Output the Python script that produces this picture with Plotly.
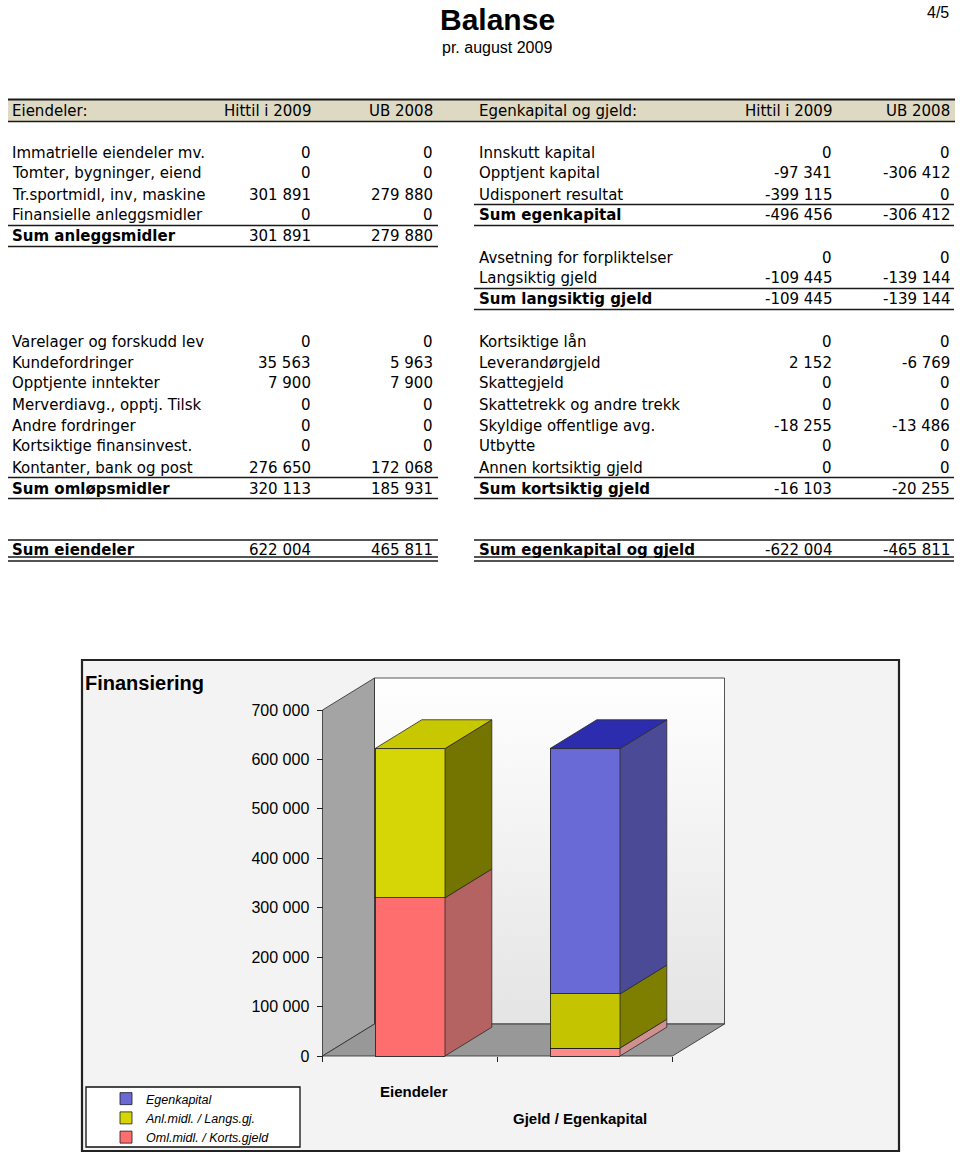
import plotly.graph_objects as go

# ------------------------------------------------------------------ data
header_left = ["Eiendeler:", "Hittil i 2009", "UB 2008"]
header_right = ["Egenkapital og gjeld:", "Hittil i 2009", "UB 2008"]

fixed_labels = ["Immatrielle eiendeler mv.", "Tomter, bygninger, eiend",
                "Tr.sportmidl, inv, maskine", "Finansielle anleggsmidler"]
fixed_2009 = [0, 0, 301891, 0]
fixed_2008 = [0, 0, 279880, 0]

current_labels = ["Varelager og forskudd lev", "Kundefordringer", "Opptjente inntekter",
                  "Merverdiavg., opptj. Tilsk", "Andre fordringer",
                  "Kortsiktige finansinvest.", "Kontanter, bank og post"]
current_2009 = [0, 35563, 7900, 0, 0, 0, 276650]
current_2008 = [0, 5963, 7900, 0, 0, 0, 172068]

equity_labels = ["Innskutt kapital", "Opptjent kapital", "Udisponert resultat"]
equity_2009 = [0, -97341, -399115]
equity_2008 = [0, -306412, 0]

longdebt_labels = ["Avsetning for forpliktelser", "Langsiktig gjeld"]
longdebt_2009 = [0, -109445]
longdebt_2008 = [0, -139144]

shortdebt_labels = ["Kortsiktige lån", "Leverandørgjeld", "Skattegjeld",
                    "Skattetrekk og andre trekk", "Skyldige offentlige avg.",
                    "Utbytte", "Annen kortsiktig gjeld"]
shortdebt_2009 = [0, 2152, 0, 0, -18255, 0, 0]
shortdebt_2008 = [0, -6769, 0, 0, -13486, 0, 0]

sum_labels = {"fixed": "Sum anleggsmidler", "current": "Sum omløpsmidler",
              "equity": "Sum egenkapital", "long": "Sum langsiktig gjeld",
              "short": "Sum kortsiktig gjeld", "assets": "Sum eiendeler",
              "liab": "Sum egenkapital og gjeld"}

chart_categories = ["Eiendeler", "Gjeld / Egenkapital"]
series_names = ["Oml.midl. / Korts.gjeld", "Anl.midl. / Langs.gj.", "Egenkapital"]
oml_values = [sum(current_2009), -sum(shortdebt_2009)]
anl_values = [sum(fixed_2009), -sum(longdebt_2009)]
ek_values = [0, -sum(equity_2009)]
series_values = [oml_values, anl_values, ek_values]

y_tick_values = [0, 100000, 200000, 300000, 400000, 500000, 600000, 700000]
y_tick_labels = ["0", "100 000", "200 000", "300 000", "400 000", "500 000",
                 "600 000", "700 000"]

# ------------------------------------------------------------------ styles
W, H = 960, 1154
TABLE_FONT = "DejaVu Sans"
CHART_FONT = "Liberation Sans, Arial"

series_front = [["#ff6e6e", "#ff8a8a"], ["#d6d606", "#c4c400"], ["#6a6ad6", "#6a6ad6"]]
series_side = [["#b46262", "#d09090"], ["#747400", "#7e7e00"], ["#4a4a96", "#4a4a96"]]
series_top = [["#e04040", "#ff9090"], ["#c8c800", "#c0c000"], ["#2c2cae", "#2c2cae"]]


def fmt(v):
    return f"{v:,}".replace(",", " ")


def xp(px):
    return px / W


def yp(py):
    return 1 - py / H


# chart geometry (pixels -> data)
ZERO_PY, TOP_PY = 1056, 710
K = (ZERO_PY - TOP_PY) / max(y_tick_values)
X0_PX, XS = 410, 175
BAR_W = 0.4
DX = 52 / XS
DV = 32 / K
BDX, BDV = DX * 0.9, DV * 0.9


def vx(px):
    return (px - X0_PX) / XS


def vy(py):
    return (ZERO_PY - py) / K


CH_L, CH_R, CH_T, CH_B = 82, 899, 660, 1151

fig = go.Figure()


def poly(pts, color, z, lw=0.8, lc="#2a2a2a", grad=None):
    xs = [p[0] for p in pts] + [pts[0][0]]
    ys = [p[1] for p in pts] + [pts[0][1]]
    kw = {}
    if grad:
        kw["fillgradient"] = dict(type="vertical", colorscale=grad)
    fig.add_trace(go.Scatter(x=xs, y=ys, mode="lines", fill="toself", fillcolor=color,
                             line=dict(color=lc, width=lw), hoverinfo="skip",
                             showlegend=False, zorder=z, **kw))


# walls
n = len(chart_categories)
xl, xr = -0.5, n - 0.5
ymax = max(y_tick_values)
poly([(xl + DX, DV), (xr + DX, DV), (xr + DX, ymax + DV), (xl + DX, ymax + DV)],
     "#f6f6f6", -2, grad=[[0, "#e4e4e4"], [1, "#ffffff"]])
poly([(xl, 0), (xl + DX, DV), (xl + DX, ymax + DV), (xl, ymax)], "#a4a4a4", -2)
poly([(xl, 0), (xr, 0), (xr + DX, DV), (xl + DX, DV)], "#989898", -2)

# front faces (bars)
for s, name in enumerate(series_names):
    fig.add_trace(go.Bar(x=list(range(n)), y=series_values[s], name=name, width=BAR_W,
                         marker=dict(color=series_front[s],
                                     line=dict(color="#1a1a1a", width=0.8)),
                         zorder=0, hoverinfo="skip"))

# side and top faces from the same values
for i in range(n):
    cum = 0
    top_s = None
    for s in range(len(series_names)):
        v = series_values[s][i]
        if v <= 0:
            continue
        b, t = cum, cum + v
        xrt = i + BAR_W / 2
        poly([(xrt, b), (xrt + BDX, b + BDV), (xrt + BDX, t + BDV), (xrt, t)],
             series_side[s][i], 1)
        cum = t
        top_s = s
    if top_s is not None:
        xlt, xrt = i - BAR_W / 2, i + BAR_W / 2
        poly([(xlt, cum), (xrt, cum), (xrt + BDX, cum + BDV), (xlt + BDX, cum + BDV)],
             series_top[top_s][i], 1)

# ------------------------------------------------------------------ table
ann = []
shapes = []


def txt(x, y, s, anchor="left", bold=False, size=15, family=TABLE_FONT, italic=False,
        xref="paper"):
    if bold:
        s = "<b>" + s + "</b>"
    ann.append(dict(x=x if xref != "paper" else xp(x), y=yp(y), xref=xref, yref="paper",
                    text=s, showarrow=False, xanchor=anchor, yanchor="middle",
                    font=dict(family=family, size=size, color="black",
                              style="italic" if italic else "normal")))


def hline(y, x0, x1, w=1.5, color="#1a1a1a"):
    shapes.append(dict(type="line", xref="paper", yref="paper", x0=xp(x0), x1=xp(x1),
                       y0=yp(y), y1=yp(y), line=dict(color=color, width=w)))


L_LAB, L_C1, L_C2 = 10, 313, 435
R_LAB, R_C1, R_C2 = 477, 834, 952
LX0, LX1, RX0, RX1 = 8, 438, 474, 954


def row_y(r):
    return 152.5 + 21 * r


# header band
shapes.append(dict(type="rect", xref="paper", yref="paper", x0=xp(8), x1=xp(955),
                   y0=yp(121), y1=yp(100), fillcolor="#ddd9c3", line=dict(width=0),
                   layer="below"))
hline(99.5, 8, 955, 2.2)
hline(121.5, 8, 955, 1.6)
for col, x, a in zip(header_left, [L_LAB, L_C1, L_C2], ["left", "right", "right"]):
    txt(x, 111, col, a)
for col, x, a in zip(header_right, [R_LAB, R_C1, R_C2], ["left", "right", "right"]):
    txt(x, 111, col, a)


def block(labels, v1, v2, r0, side, sum_label):
    lab, c1, c2 = (L_LAB, L_C1, L_C2) if side == "L" else (R_LAB, R_C1, R_C2)
    x0, x1 = (LX0, LX1) if side == "L" else (RX0, RX1)
    for k, lbl in enumerate(labels):
        y = row_y(r0 + k)
        txt(lab, y, lbl)
        txt(c1, y, fmt(v1[k]), "right")
        txt(c2, y, fmt(v2[k]), "right")
    rs = r0 + len(labels)
    y = row_y(rs)
    txt(lab, y, sum_label, bold=True)
    txt(c1, y, fmt(sum(v1)), "right")
    txt(c2, y, fmt(sum(v2)), "right")
    hline(y - 11, x0, x1)
    hline(y + 10, x0, x1)


block(fixed_labels, fixed_2009, fixed_2008, 0, "L", sum_labels["fixed"])
block(current_labels, current_2009, current_2008, 9, "L", sum_labels["current"])
block(equity_labels, equity_2009, equity_2008, 0, "R", sum_labels["equity"])
block(longdebt_labels, longdebt_2009, longdebt_2008, 5, "R", sum_labels["long"])
block(shortdebt_labels, shortdebt_2009, shortdebt_2008, 9, "R", sum_labels["short"])

tot_y = 549.5
txt(L_LAB, tot_y, sum_labels["assets"], bold=True)
txt(L_C1, tot_y, fmt(sum(fixed_2009) + sum(current_2009)), "right")
txt(L_C2, tot_y, fmt(sum(fixed_2008) + sum(current_2008)), "right")
txt(R_LAB, tot_y, sum_labels["liab"], bold=True)
txt(R_C1, tot_y, fmt(sum(equity_2009) + sum(longdebt_2009) + sum(shortdebt_2009)), "right")
txt(R_C2, tot_y, fmt(sum(equity_2008) + sum(longdebt_2008) + sum(shortdebt_2008)), "right")
for (a, b) in [(LX0, LX1), (RX0, RX1)]:
    hline(540, a, b)
    hline(557, a, b, 1.3)
    hline(561, a, b, 1.3)

# titles
txt(497, 19.5, "Balanse", "center", bold=True, size=30, family=CHART_FONT)
txt(497, 48, "pr. august 2009", "center", size=16, family=CHART_FONT)
txt(938, 12.5, "4/5", "center", size=16, family=CHART_FONT)

# chart texts
txt(83, 683, "Finansiering", "left", bold=True, size=20, family=CHART_FONT)
txt(0.02, 1091, chart_categories[0], "center", bold=True, size=15, family=CHART_FONT, xref="x")
txt(0.97, 1118, chart_categories[1], "center", bold=True, size=15, family=CHART_FONT, xref="x")

# chart frame and legend box
shapes.append(dict(type="rect", xref="paper", yref="paper", x0=xp(CH_L), x1=xp(CH_R),
                   y0=yp(CH_B), y1=yp(CH_T), line=dict(color="#222222", width=2.2),
                   fillcolor="rgba(0,0,0,0)", layer="above"))
shapes.append(dict(type="rect", xref="paper", yref="paper", x0=xp(86), x1=xp(300),
                   y0=yp(1147), y1=yp(1087), line=dict(color="#111111", width=1.3),
                   fillcolor="white", layer="above"))

fig.update_layout(
    width=W, height=H, autosize=False,
    margin=dict(l=0, r=0, t=0, b=0),
    paper_bgcolor="white", plot_bgcolor="#f3f3f3",
    barmode="stack", bargap=0,
    showlegend=True,
    legend=dict(x=xp(106), y=yp(1084), xanchor="left", yanchor="top",
                bgcolor="rgba(0,0,0,0)", borderwidth=0, traceorder="reversed",
                font=dict(family=CHART_FONT, size=12.5, color="black", style="italic"),
                tracegroupgap=0, itemclick=False, itemdoubleclick=False),
    xaxis=dict(domain=[xp(CH_L), xp(CH_R)], range=[vx(CH_L), vx(CH_R)],
               anchor="free", position=yp(ZERO_PY), showgrid=False, zeroline=False,
               showline=False, tickvals=[xl + k for k in range(n + 1)],
               ticktext=["" for _ in range(n + 1)], ticks="outside", ticklen=5,
               tickcolor="#222222", tickwidth=1, fixedrange=True),
    yaxis=dict(domain=[yp(CH_B), yp(CH_T)], range=[vy(CH_B), vy(CH_T)],
               anchor="free", position=xp(X0_PX + xl * XS), showgrid=False,
               zeroline=False, showline=False, tickvals=y_tick_values,
               ticktext=y_tick_labels, ticks="outside", ticklen=6, tickcolor="#222222",
               tickwidth=1, ticklabelstandoff=4,
               tickfont=dict(family=CHART_FONT, size=16, color="black"), fixedrange=True),
    annotations=ann, shapes=shapes,
)

fig.write_html("out.html",
               config={"displayModeBar": False, "staticPlot": True},
               post_script="document.body.style.margin='0';"
                           "document.body.style.overflow='hidden';")
